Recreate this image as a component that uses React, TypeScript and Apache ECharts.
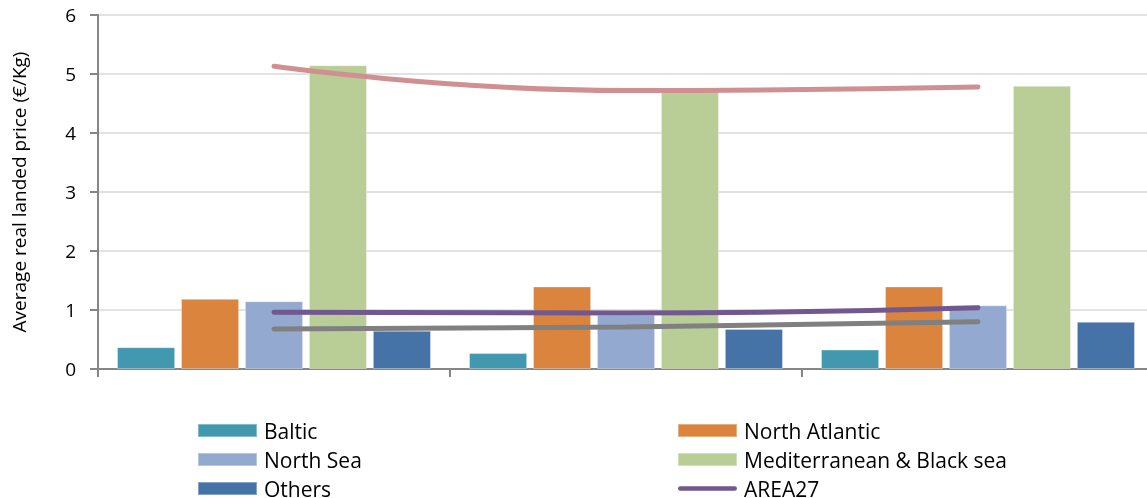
import React, { useEffect, useRef } from "react";
import * as echarts from "echarts";

const categories = ["Period 1", "Period 2", "Period 3"];
const baltic = [0.37, 0.27, 0.33];
const northAtlantic = [1.19, 1.4, 1.4];
const northSea = [1.15, 0.92, 1.08];
const medBlack = [5.15, 4.71, 4.8];
const others = [0.65, 0.68, 0.8];
const area27 = [0.96, 0.95, 1.04];
const medTrend = [5.13, 4.72, 4.78];
const otherTrend = [0.68, 0.71, 0.8];

const FONT = "'Open Sans', sans-serif";
const AXIS_GREY = "#868686";
const LINE_ICON =
  "path://M2.5,0 L60.5,0 A2.5,2.5 0 0 1 60.5,5 L2.5,5 A2.5,2.5 0 0 1 2.5,0 Z";

export default function App() {
  const ref = useRef<HTMLDivElement>(null);
  useEffect(() => {
    if (!ref.current) return;
    const chart = echarts.init(ref.current, undefined, { renderer: "svg" });
    const bar = (name: string, data: number[], color: string) => ({
      name,
      type: "bar",
      data,
      barGap: "10%",
      barCategoryGap: "10.8%",
      itemStyle: { color, borderColor: "rgba(255,255,255,0.35)", borderWidth: 1 },
      z: 2,
    });
    const line = (name: string, data: number[], color: string) => ({
      name,
      type: "line",
      data,
      smooth: true,
      symbol: "none",
      lineStyle: { color, width: 5, cap: "round" },
      itemStyle: { color },
      z: 5,
    });
    const legendCommon = {
      orient: "vertical",
      top: 420,
      padding: 0,
      itemWidth: 59,
      itemHeight: 13,
      itemGap: 8,
      textStyle: { fontFamily: FONT, fontSize: 21, color: "#000", lineHeight: 18, padding: [0, 0, 0, 2] },
    };
    chart.setOption({
      animation: false,
      textStyle: { fontFamily: FONT },
      grid: { left: 98, width: 1056, top: 15, height: 354, containLabel: false },
      legend: [
        {
          ...legendCommon,
          left: 197,
          data: [
            { name: "Baltic", icon: "rect" },
            { name: "North Sea", icon: "rect" },
            { name: "Others", icon: "rect" },
          ],
        },
        {
          ...legendCommon,
          left: 677,
          data: [
            { name: "North Atlantic", icon: "rect" },
            { name: "Mediterranean & Black sea", icon: "rect" },
            { name: "AREA27", icon: LINE_ICON },
          ],
        },
      ],
      xAxis: {
        type: "category",
        data: categories,
        axisLine: { lineStyle: { color: AXIS_GREY, width: 2 } },
        axisTick: { show: true, length: 8, lineStyle: { color: AXIS_GREY, width: 2 } },
        axisLabel: { show: false },
        splitLine: { show: false },
      },
      yAxis: {
        type: "value",
        min: 0,
        max: 6,
        interval: 1,
        name: "Average real landed price (€/Kg)",
        nameLocation: "middle",
        nameGap: 70,
        nameTextStyle: { fontFamily: FONT, fontSize: 19, color: "#000" },
        axisLine: { show: true, lineStyle: { color: AXIS_GREY, width: 2 } },
        axisTick: { show: true, length: 8, lineStyle: { color: AXIS_GREY, width: 2 } },
        axisLabel: { fontFamily: FONT, fontSize: 19, color: "#000", margin: 22 },
        splitLine: { show: true, lineStyle: { color: "#D9D9D9", width: 1.5 } },
      },
      series: [
        bar("Baltic", baltic, "#4198AF"),
        bar("North Atlantic", northAtlantic, "#DB843D"),
        bar("North Sea", northSea, "#93A9CF"),
        bar("Mediterranean & Black sea", medBlack, "#B9CD96"),
        bar("Others", others, "#4572A7"),
        line("AREA27", area27, "#71588F"),
        line("Mediterranean & Black sea trend", medTrend, "#D09092"),
        line("Others trend", otherTrend, "#808080"),
      ],
    });
    return () => chart.dispose();
  }, []);
  return (
    <div
      ref={ref}
      style={{ position: "fixed", left: 0, top: 0, width: 1160, height: 540 }}
    />
  );
}
